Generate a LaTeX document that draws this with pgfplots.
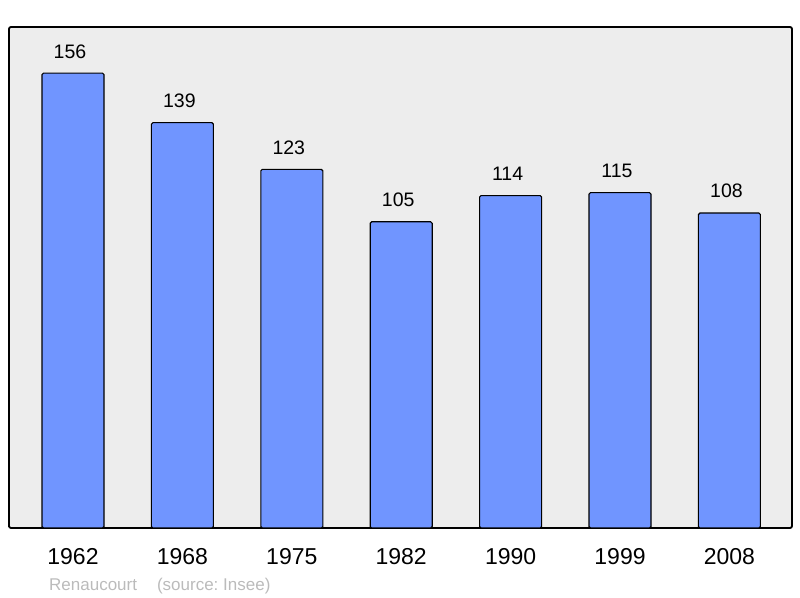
\documentclass[border=0pt]{standalone}
\usepackage{pgfplots}
\pgfplotsset{compat=1.18}
\usepackage{fontspec}
\setmainfont{Liberation Sans}
\definecolor{barblue}{RGB}{112,149,255}
\definecolor{bggray}{RGB}{237,237,237}
\definecolor{notegray}{RGB}{187,187,187}
\frenchspacing
\begin{document}
\begin{tikzpicture}
\path[use as bounding box] (0,0) rectangle (800bp,598bp);
\begin{axis}[
    at={(9bp,70bp)}, anchor=south west,
    scale only axis,
    width=783bp, height=501bp,
    xmin=-0.585, xmax=6.572,
    ymin=0, ymax=171.8,
    axis background/.style={fill=bggray},
    axis line style={line width=1.8bp, black, rounded corners=2bp},
    ytick=\empty,
    xtick={0,1,2,3,4,5,6},
    xticklabels={1962,1968,1975,1982,1990,1999,2008},
    major tick length=0pt,
    xticklabel style={font=\fontsize{23bp}{26bp}\selectfont, yshift=-17bp},
    /pgf/number format/assume math mode=true,
    ybar, bar width=62bp,
    nodes near coords,
    every node near coord/.append style={font=\fontsize{19.5bp}{22bp}\selectfont, black, yshift=11bp, xshift=-3bp},
]
\addplot[draw=black, line width=1.1bp, fill=barblue, rounded corners=1.5bp]
coordinates {(0,156)(1,139)(2,123)(3,105)(4,114)(5,115)(6,108)};
\end{axis}
\node[anchor=base west, text=notegray, font=\fontsize{17bp}{20bp}\selectfont, inner sep=0pt]
  at (49bp,8bp) {Renaucourt\hspace{20bp}(source: Insee)};
\end{tikzpicture}
\end{document}
